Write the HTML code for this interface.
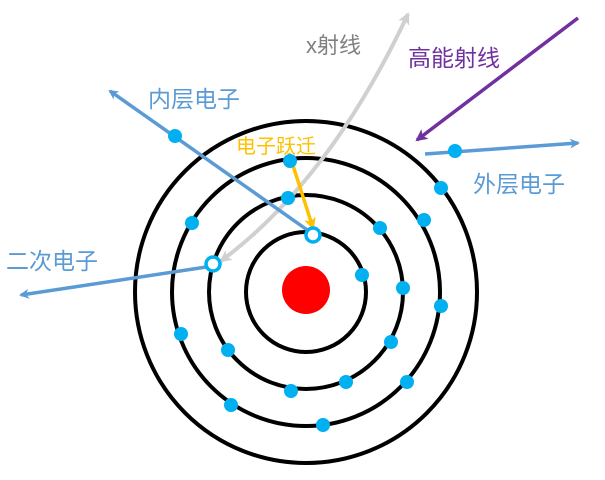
<!DOCTYPE html>
<html><head><meta charset="utf-8"><style>
html,body{margin:0;padding:0;background:#fff;}
svg{display:block}
text{font-family:"Liberation Sans","Noto Sans CJK SC",sans-serif;}
</style></head><body>
<svg width="605" height="480" viewBox="0 0 605 480" xmlns="http://www.w3.org/2000/svg">
<defs>
<marker id="ab" markerWidth="10" markerHeight="10" refX="8" refY="5" orient="auto" markerUnits="userSpaceOnUse"><path d="M0,0 L10,5 L0,10 L3,5 z" fill="#5b9bd5"/></marker>
<marker id="ag" markerWidth="12" markerHeight="12" refX="10" refY="6" orient="auto-start-reverse" markerUnits="userSpaceOnUse"><path d="M0,0 L12,6 L0,12 L3,6 z" fill="#d0d0d0"/></marker>
<marker id="ap" markerWidth="12" markerHeight="12" refX="10" refY="6" orient="auto" markerUnits="userSpaceOnUse"><path d="M0,0 L12,6 L0,12 L3,6 z" fill="#7030a0"/></marker>
<marker id="ao" markerWidth="12" markerHeight="12" refX="10" refY="6" orient="auto" markerUnits="userSpaceOnUse"><path d="M0,0 L12,6 L0,12 L3,6 z" fill="#ffc000"/></marker>
</defs>
<g fill="none" stroke="#000" stroke-width="4">
<circle cx="306" cy="292" r="60"/>
<circle cx="306" cy="292" r="97"/>
<circle cx="306" cy="292" r="134"/>
<circle cx="306" cy="292" r="171"/>
</g>
<circle cx="306" cy="290" r="24" fill="#ff0000"/>
<path d="M221,261 Q330,180 408,14" fill="none" stroke="#d0d0d0" stroke-width="4" marker-start="url(#ag)" marker-end="url(#ag)"/>
<line x1="313" y1="234" x2="110" y2="91" stroke="#5b9bd5" stroke-width="3.5" marker-end="url(#ab)"/>
<line x1="213" y1="266" x2="21" y2="295" stroke="#5b9bd5" stroke-width="3.5" marker-end="url(#ab)"/>
<line x1="425" y1="154" x2="578" y2="143" stroke="#5b9bd5" stroke-width="3.5" marker-end="url(#ab)"/>
<line x1="578" y1="18" x2="417" y2="140" stroke="#7030a0" stroke-width="3.5" marker-end="url(#ap)"/>
<line x1="289" y1="153" x2="313" y2="228" stroke="#ffc000" stroke-width="3.5" marker-end="url(#ao)"/>
<g fill="#00b0f0">
<circle cx="175" cy="136" r="7"/><circle cx="455" cy="151" r="7"/>
<circle cx="290" cy="161" r="7"/><circle cx="288" cy="198" r="7"/>
<circle cx="441" cy="188" r="7"/><circle cx="424" cy="220" r="7"/>
<circle cx="380" cy="228" r="7"/><circle cx="362" cy="275" r="7"/>
<circle cx="403" cy="288" r="7"/><circle cx="441" cy="306" r="7"/>
<circle cx="192" cy="223" r="7"/><circle cx="181" cy="334" r="7"/>
<circle cx="228" cy="350" r="7"/><circle cx="391" cy="342" r="7"/>
<circle cx="346" cy="382" r="7"/><circle cx="291" cy="391" r="7"/>
<circle cx="407" cy="382" r="7"/><circle cx="231" cy="405" r="7"/>
<circle cx="323" cy="425" r="7"/>
</g>
<circle cx="313" cy="235" r="7" fill="#fff" stroke="#00b0f0" stroke-width="3.5"/>
<circle cx="213" cy="264" r="7" fill="#fff" stroke="#00b0f0" stroke-width="3.5"/>
<text x="306" y="53" font-size="22" fill="#808080">x射线</text>
<text x="408" y="66" font-size="23" fill="#7030a0">高能射线</text>
<text x="148" y="107" font-size="23" fill="#5b9bd5">内层电子</text>
<text x="473" y="192" font-size="23" fill="#5b9bd5">外层电子</text>
<text x="6" y="269" font-size="23" fill="#5b9bd5">二次电子</text>
<text x="236" y="153" font-size="20" fill="#ffc000">电子跃迁</text>
</svg>
</body></html>
